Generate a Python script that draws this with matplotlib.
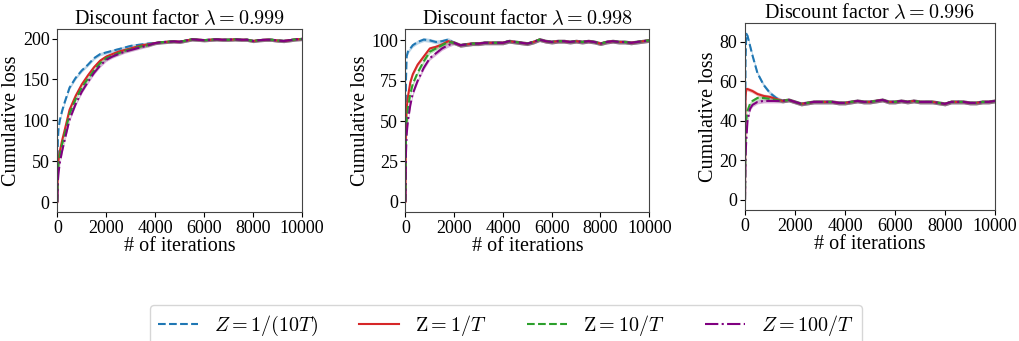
import numpy as np
import matplotlib
matplotlib.use("Agg")
import matplotlib.pyplot as plt

plt.rcParams['font.family'] = ['Liberation Serif', 'DejaVu Serif']
plt.rcParams['mathtext.fontset'] = 'cm'
plt.rcParams['font.size'] = 14

# ---- data ----
lambdas = ['0.999', '0.998', '0.996']
labels = [r'$Z=1/(10T)$', r'$\mathrm{Z}=1/T$', r'$\mathrm{Z}=10/T$', r'$Z=100/T$']

# panel 1 (lambda = 0.999)
x1_head = [0, 20, 50, 100, 200, 300, 500, 750, 1000, 1250, 1500, 1750,
           2000, 2250, 2500, 2750, 3000, 3250, 3500, 3750]
p1_blue = [0, 75, 90, 100, 112, 122, 140, 152, 161, 168, 176, 181,
           183, 185, 187, 189, 191, 192, 193, 194]
p1_red = [0, 40, 52, 62, 76, 88, 113, 130, 144, 155, 165, 173,
          178, 181, 184, 186, 188, 190, 192, 193]
p1_green = [0, 35, 46, 57, 71, 83, 108, 126, 140, 151, 161, 170,
            176, 179, 182, 185, 187, 189, 191, 192]
p1_purple = [0, 25, 36, 48, 63, 76, 101, 120, 135, 147, 158, 167,
             174, 178, 181, 184, 186, 188, 190, 192]
x1_tail = np.arange(4000, 10001, 250)
p1_tail = [194.5, 195.5, 196, 196.5, 196, 197.5, 199, 198.5, 198, 198.5,
           199, 198.5, 198.5, 199, 198.5, 198.5, 197, 198, 198.5, 198.5,
           197.5, 197, 198, 199, 199.5]

# panel 2 (lambda = 0.998)
x2_head = [0, 20, 50, 100, 200, 300, 500, 750, 1000, 1250, 1500, 1750]
p2_blue = [0, 75, 90, 93, 95, 97, 99, 100.5, 100, 99, 99.5, 100.5]
p2_red = [0, 45, 58, 65, 74, 79, 85, 90, 95, 96, 97.5, 99.5]
p2_green = [0, 38, 50, 58, 67, 73, 80, 87, 93, 95, 97, 99]
p2_purple = [0, 30, 42, 50, 60, 67, 75, 83, 89, 92, 95, 97]
x2_tail = np.arange(2000, 10001, 250)
p2_tail = [98.5, 97, 97.5, 98, 98, 98.5, 98.5, 98.5, 98.5, 99.5, 99, 98.5,
           98, 99, 100.5, 99.5, 99, 99.5, 99.5, 99, 99.5, 99, 99.5, 99,
           98, 99, 99.5, 99, 99, 98.5, 99, 99.5, 100]

# panel 3 (lambda = 0.996)
x3_head = [0, 20, 50, 100, 200, 300, 500, 750, 1000, 1250]
p3_blue = [0, 70, 84, 83, 78, 73, 64, 58, 54, 51.5]
p3_red = [0, 52, 56, 56, 55.5, 55, 53.5, 52.5, 52, 51]
p3_green = [0, 35, 40, 45, 48.5, 50, 51.5, 51.5, 51, 50.5]
p3_purple = [0, 22, 30, 40, 46, 48, 49.5, 50, 50, 50]
x3_tail = np.arange(1500, 10001, 250)
p3_tail = [50, 50.5, 49.5, 48.5, 49, 49.5, 49.5, 49.5, 49.5, 49, 49, 49.5,
           50, 49.5, 49.5, 50, 50.5, 49.5, 49.5, 50, 49.5, 50, 49.5, 49.5,
           49.5, 49, 48.5, 49.5, 49.5, 49.5, 49, 49, 49.5, 49.5, 50]

band = [2.0, 1.2, 1.0]  # half width of the shaded spread

panels = [
    (x1_head, [p1_blue, p1_red, p1_green, p1_purple], x1_tail, p1_tail),
    (x2_head, [p2_blue, p2_red, p2_green, p2_purple], x2_tail, p2_tail),
    (x3_head, [p3_blue, p3_red, p3_green, p3_purple], x3_tail, p3_tail),
]

colors = ['tab:blue', 'tab:red', 'tab:green', 'purple']
styles = ['--', '-', '--', '-.']

fig = plt.figure(figsize=(10.2, 3.41), dpi=100)
rects = [[0.0562, 0.378, 0.240, 0.537],
         [0.3975, 0.378, 0.239, 0.536],
         [0.7304, 0.384, 0.245, 0.5475]]

handles = []
for i, (xh, series, xt, tail) in enumerate(panels):
    ax = fig.add_axes(rects[i])
    for j in range(4):
        x = np.concatenate([xh, xt])
        y = np.concatenate([series[j], tail])
        ax.fill_between(x, y - band[i], y + band[i], color=colors[j],
                        alpha=0.3, lw=0)
        h, = ax.plot(x, y, color=colors[j], ls=styles[j], lw=1.5,
                     label=labels[j])
        if i == 0:
            handles.append(h)
    ax.set_xlim(0, 10000)
    ax.set_xticks([0, 2000, 4000, 6000, 8000, 10000])
    if i == 1:
        ax.set_yticks([0, 25, 50, 75, 100])
    ax.tick_params(labelsize=13, pad=2)
    for s in ax.spines.values():
        s.set_color('#444444')
    ax.set_title(r'Discount factor $\lambda=' + lambdas[i] + '$', fontsize=14.5,
                 pad=3)
    ax.set_xlabel('# of iterations', fontsize=14.5, labelpad=0)
    ax.set_ylabel('Cumulative loss', fontsize=14.5, labelpad=1)

fig.legend(handles=handles, loc='upper center', bbox_to_anchor=(0.496, 0.106),
           ncol=4, fontsize=14.5, columnspacing=2.0, handlelength=2.0,
           borderaxespad=0)

fig.savefig('out.png', dpi=100)
